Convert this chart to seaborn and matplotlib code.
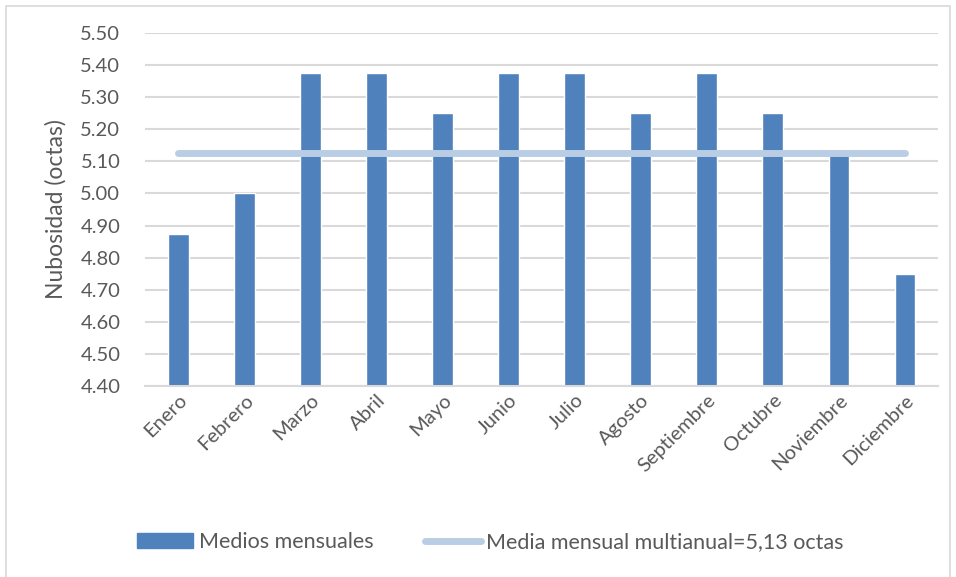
import pandas as pd
import seaborn as sns
import matplotlib.pyplot as plt
from matplotlib.patches import Patch, Rectangle
from matplotlib.lines import Line2D

# Datos
meses = ["Enero", "Febrero", "Marzo", "Abril", "Mayo", "Junio", "Julio",
         "Agosto", "Septiembre", "Octubre", "Noviembre", "Diciembre"]
nubosidad = [4.875, 5.00, 5.375, 5.375, 5.25, 5.375, 5.375,
             5.25, 5.375, 5.25, 5.125, 4.75]
media_multianual = 5.125
yticks = [4.40, 4.50, 4.60, 4.70, 4.80, 4.90, 5.00, 5.10, 5.20, 5.30, 5.40, 5.50]

df = pd.DataFrame({"mes": meses, "nubosidad": nubosidad})

sns.set_style("white")
plt.rcParams['font.family'] = ['Lato', 'DejaVu Sans']
gris = "#595959"

fig, ax = plt.subplots(figsize=(9.56, 5.77), dpi=100)
fig.subplots_adjust(left=0.152, right=0.981, top=0.943, bottom=0.331)

sns.barplot(data=df, x="mes", y="nubosidad", color="#4F81BD", saturation=1,
            width=0.31, ax=ax, zorder=2)

# linea de la media mensual multianual
ax.plot(range(len(meses)), [media_multianual] * len(meses), color="#B9CDE5",
        lw=5, solid_capstyle="round", zorder=3)

ax.set_ylim(4.40, 5.50)
ax.set_yticks(yticks)
ax.set_yticklabels([f"{v:.2f}" for v in yticks])
ax.set_xlim(-0.5, len(meses) - 0.5)
ax.yaxis.grid(True, color="#D9D9D9", lw=1.5, zorder=0)
ax.set_axisbelow(True)
for s in ["top", "right", "left"]:
    ax.spines[s].set_visible(False)
ax.spines["bottom"].set_color("#D9D9D9")
ax.spines["bottom"].set_linewidth(1.5)

ax.set_xlabel("")
ax.set_ylabel("Nubosidad (octas)", fontsize=16.5, color=gris, labelpad=10)
ax.tick_params(axis="y", labelsize=14.5, colors=gris, length=0, pad=18)
ax.tick_params(axis="x", labelsize=14.5, colors=gris, length=0, pad=4)
plt.setp(ax.get_xticklabels(), rotation=45, ha="right", rotation_mode="anchor")

handles = [Patch(color="#4F81BD"),
           Line2D([0], [0], color="#B9CDE5", lw=5, solid_capstyle="round")]
labels = ["Medios mensuales", "Media mensual multianual=5,13 octas"]
fig.legend(handles, labels, loc="center", bbox_to_anchor=(0.513, 0.06), ncol=2,
           frameon=False, fontsize=15.5, labelcolor=gris, handlelength=2.6,
           handletextpad=0.25, columnspacing=2.4)

# borde del area del grafico
fig.patches.append(Rectangle((0.006, -0.01), 0.988, 1.0, transform=fig.transFigure,
                             fill=False, edgecolor="#D9D9D9", lw=1.2))

fig.savefig("out.png", dpi=100)
